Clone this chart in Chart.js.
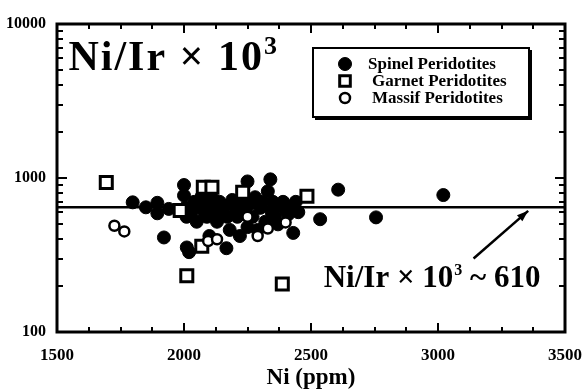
<!DOCTYPE html>
<html>
<head>
<meta charset="utf-8">
<script src="https://cdn.jsdelivr.net/npm/chart.js@4/dist/chart.umd.min.js"></script>
<style>
  html, body { margin: 0; padding: 0; background: #fff; }
  #wrap { width: 587px; height: 392px; }
</style>
</head>
<body>
<div id="wrap"><canvas id="chart" width="587" height="392"></canvas></div>
<script>
// Spinel peridotites (Ni ppm, Ni/Ir x 10^3)
const spinelNi = [1798, 1850, 1895, 1895, 1921, 1940, 2000, 2000, 2005, 2010, 2011, 2020, 2030, 2040, 2050, 2060, 2070, 2080, 2090, 2100, 2100, 2110, 2120, 2130, 2140, 2150, 2160, 2167, 2170, 2180, 2190, 2200, 2210, 2220, 2230, 2240, 2250, 2250, 2260, 2270, 2280, 2290, 2300, 2310, 2320, 2330, 2340, 2345, 2350, 2360, 2370, 2380, 2390, 2400, 2410, 2420, 2430, 2440, 2450, 2536, 2607, 2756, 3021];
const spinelRatio = [695, 645, 690, 590, 411, 630, 900, 770, 640, 560, 354, 330, 600, 700, 520, 650, 760, 600, 560, 680, 420, 740, 620, 520, 700, 600, 660, 350, 560, 460, 720, 640, 560, 420, 700, 600, 950, 480, 680, 560, 750, 460, 640, 700, 520, 820, 980, 600, 700, 560, 500, 660, 700, 620, 580, 650, 440, 700, 600, 540, 840, 555, 775];

// Garnet peridotites
const garnetNi = [1694, 1985, 2011, 2070, 2076, 2110, 2231, 2387, 2484];
const garnetRatio = [935, 615, 232, 360, 870, 870, 808, 205, 760];

// Massif peridotites
const massifNi = [1726, 1765, 2095, 2130, 2250, 2290, 2330, 2400];
const massifRatio = [490, 450, 390, 400, 560, 420, 470, 515];

// average line
const avgNi = [1500, 3500];
const avgRatio = [645, 645];

const xTickLabels = [1500, 2000, 2500, 3000, 3500];
const yTickLabels = [100, 1000, 10000];

const serif = "'Liberation Serif', 'DejaVu Serif', serif";

function toPts(xs, ys) {
  return xs.map((x, i) => ({ x: x, y: ys[i] }));
}

// log ticks only at 1..9 x 10^n (no 1.5 x 10^n)
function wholeSignificand(v) {
  const s = v / Math.pow(10, Math.floor(Math.log10(v) + 1e-9));
  return Math.abs(s - Math.round(s)) < 1e-6;
}

// frame, inward ticks, legend box and annotations
const decorPlugin = {
  id: "decor",
  afterDraw(chart) {
    const ctx = chart.ctx;
    const a = chart.chartArea;
    const xs = chart.scales.x;
    const ys = chart.scales.y;

    // frame
    ctx.save();
    ctx.strokeStyle = "#000";
    ctx.lineWidth = 3;
    ctx.strokeRect(a.left, a.top, a.right - a.left, a.bottom - a.top);
    ctx.restore();

    // ticks on all four sides, pointing inward
    const xt = xs.ticks.map((t) => t.value);
    const yt = ys.ticks.map((t) => t.value).filter(wholeSignificand);
    ctx.save();
    ctx.fillStyle = "#000";
    for (let i = 0; i < xt.length; i++) {
      const px = Math.round(xs.getPixelForValue(xt[i]));
      const len = xTickLabels.indexOf(xt[i]) >= 0 ? 9 : 5;
      ctx.fillRect(px - 1, a.bottom - len, 2, len);
      ctx.fillRect(px - 1, a.top, 2, len);
    }
    for (let i = 0; i < yt.length; i++) {
      const py = Math.round(ys.getPixelForValue(yt[i]));
      const len = yTickLabels.indexOf(yt[i]) >= 0 ? 10 : 6;
      ctx.fillRect(a.left, py - 1, len, 2);
      ctx.fillRect(a.right - len, py - 1, len, 2);
    }
    ctx.restore();

    ctx.save();
    ctx.strokeStyle = "#000";
    ctx.fillStyle = "#000";
    // legend box
    const lx = 313, ly = 48, lw = 216, lh = 69;
    ctx.lineWidth = 2;
    ctx.strokeRect(lx, ly, lw, lh);
    ctx.fillRect(lx + 2, ly + lh, lw, 3);
    ctx.fillRect(lx + lw, ly + 2, 3, lh + 1);
    const rows = [
      { ds: 0, y: ly + 16, tx: lx + 55 },
      { ds: 1, y: ly + 33, tx: lx + 59 },
      { ds: 2, y: ly + 50, tx: lx + 59 }
    ];
    ctx.font = "bold 17px " + serif;
    ctx.textBaseline = "middle";
    ctx.textAlign = "left";
    rows.forEach((r) => {
      const d = chart.data.datasets[r.ds];
      const mx = lx + 32;
      ctx.lineWidth = d.borderWidth;
      ctx.fillStyle = d.backgroundColor;
      ctx.strokeStyle = d.borderColor;
      Chart.helpers.drawPoint(ctx, {
        pointStyle: d.pointStyle,
        radius: r.ds === 1 ? 7.5 : d.pointRadius,
        borderWidth: d.borderWidth
      }, mx, r.y);
      ctx.fillStyle = "#000";
      ctx.fillText(d.label, r.tx, r.y + 1);
    });

    // big label top left
    ctx.fillStyle = "#000";
    ctx.textBaseline = "alphabetic";
    let tx = xs.getPixelForValue(1545);
    let ty = ys.getPixelForValue(5000);
    ctx.font = "bold 42px " + serif;
    ctx.letterSpacing = "2px";
    ctx.fillText("Ni/Ir \u00d7 10", tx, ty);
    let w = ctx.measureText("Ni/Ir \u00d7 10").width;
    ctx.font = "bold 26px " + serif;
    ctx.fillText("3", tx + w, ty - 16);
    ctx.letterSpacing = "0px";

    // lower annotation
    tx = xs.getPixelForValue(2550);
    ty = ys.getPixelForValue(196);
    ctx.font = "bold 31px " + serif;
    ctx.fillText("Ni/Ir \u00d7 10", tx, ty);
    w = ctx.measureText("Ni/Ir \u00d7 10").width;
    ctx.font = "bold 16px " + serif;
    ctx.fillText("3", tx + w + 1, ty - 12);
    const w3 = ctx.measureText("3").width;
    ctx.font = "bold 31px " + serif;
    ctx.fillText(" ~ 610", tx + w + w3 + 1, ty);

    // arrow
    const x0 = xs.getPixelForValue(3140), y0 = ys.getPixelForValue(300);
    const x1 = xs.getPixelForValue(3355), y1 = ys.getPixelForValue(612);
    ctx.strokeStyle = "#000";
    ctx.lineWidth = 2.5;
    ctx.beginPath();
    ctx.moveTo(x0, y0);
    ctx.lineTo(x1, y1);
    ctx.stroke();
    const ang = Math.atan2(y1 - y0, x1 - x0);
    ctx.beginPath();
    ctx.moveTo(x1, y1);
    ctx.lineTo(x1 - 12 * Math.cos(ang - 0.35), y1 - 12 * Math.sin(ang - 0.35));
    ctx.lineTo(x1 - 12 * Math.cos(ang + 0.35), y1 - 12 * Math.sin(ang + 0.35));
    ctx.closePath();
    ctx.fill();

    ctx.restore();
  }
};

new Chart(document.getElementById("chart"), {
  type: "scatter",
  data: {
    datasets: [
      {
        label: "Spinel Peridotites",
        data: toPts(spinelNi, spinelRatio),
        pointStyle: "circle",
        pointRadius: 6.5,
        backgroundColor: "#000",
        borderColor: "#000",
        borderWidth: 1,
        order: 3
      },
      {
        label: "Garnet Peridotites",
        data: toPts(garnetNi, garnetRatio),
        pointStyle: "rect",
        pointRadius: 8.5,
        backgroundColor: "#fff",
        borderColor: "#000",
        borderWidth: 3,
        order: 2
      },
      {
        label: "Massif Peridotites",
        data: toPts(massifNi, massifRatio),
        pointStyle: "circle",
        pointRadius: 5,
        backgroundColor: "#fff",
        borderColor: "#000",
        borderWidth: 2.5,
        order: 1
      },
      {
        label: "mean",
        type: "line",
        data: toPts(avgNi, avgRatio),
        borderColor: "#000",
        borderWidth: 2.5,
        pointRadius: 0,
        showLine: true,
        order: 4
      }
    ]
  },
  options: {
    responsive: false,
    animation: false,
    layout: { padding: { top: 24, right: 19, left: 0, bottom: 0 } },
    plugins: {
      legend: { display: false },
      tooltip: { enabled: false }
    },
    scales: {
      x: {
        type: "linear",
        min: 1500,
        max: 3500,
        grid: { display: false },
        border: { display: false },
        ticks: {
          stepSize: 125,
          autoSkip: false,
          maxRotation: 0,
          color: "#000",
          padding: 5,
          font: { family: serif, size: 17, weight: "bold" },
          callback: (v) => (xTickLabels.includes(v) ? String(v) : "")
        },
        title: {
          display: true,
          text: "Ni (ppm)",
          color: "#000",
          padding: { top: 0, bottom: 0 },
          font: { family: serif, size: 23, weight: "bold" }
        },
        afterFit: (s) => { s.height = 60; }
      },
      y: {
        type: "logarithmic",
        min: 100,
        max: 10000,
        grid: { display: false },
        border: { display: false },
        ticks: {
          autoSkip: false,
          color: "#000",
          padding: 3,
          font: { family: serif, size: 16, weight: "bold" },
          callback: (v) => (yTickLabels.includes(v) ? String(v) : "")
        },
        afterFit: (s) => { s.width = 57; }
      }
    }
  },
  plugins: [decorPlugin]
});
</script>
</body>
</html>
